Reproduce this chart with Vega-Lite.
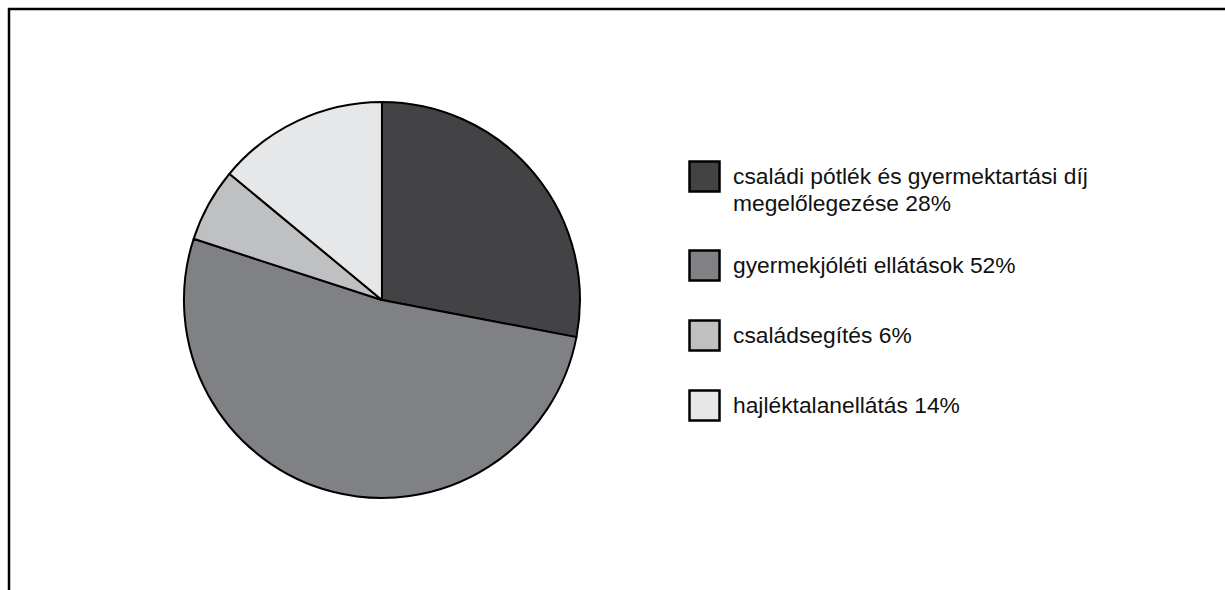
{
  "$schema": "https://vega.github.io/schema/vega-lite/v6.json",
  "autosize": "none",
  "width": 1226,
  "height": 591,
  "padding": {"left": 9, "top": 9, "right": -10, "bottom": -10},
  "background": "white",
  "config": {"view": {"stroke": "black", "strokeWidth": 2.5}},
  "data": {
    "values": [
      {"kategoria": "családi pótlék és gyermektartási díj megelőlegezése 28%", "ertek": 28, "sorrend": 1},
      {"kategoria": "gyermekjóléti ellátások 52%", "ertek": 52, "sorrend": 2},
      {"kategoria": "családsegítés 6%", "ertek": 6, "sorrend": 3},
      {"kategoria": "hajléktalanellátás 14%", "ertek": 14, "sorrend": 4}
    ]
  },
  "mark": {"type": "arc", "outerRadius": 198, "stroke": "black", "strokeWidth": 2, "strokeJoin": "round"},
  "encoding": {
    "theta": {"field": "ertek", "type": "quantitative", "stack": true},
    "order": {"field": "sorrend", "type": "quantitative"},
    "x": {"datum": 0.3042, "type": "quantitative", "scale": {"domain": [0, 1], "nice": false, "zero": false}, "axis": null},
    "y": {"datum": 0.4924, "type": "quantitative", "scale": {"domain": [0, 1], "nice": false, "zero": false, "reverse": true}, "axis": null},
    "color": {
      "field": "kategoria",
      "type": "nominal",
      "scale": {
        "domain": ["családi pótlék és gyermektartási díj megelőlegezése 28%", "gyermekjóléti ellátások 52%", "családsegítés 6%", "hajléktalanellátás 14%"],
        "range": ["#434345", "#808185", "#bfc0c2", "#e6e7e8"]
      },
      "legend": {
        "orient": "none",
        "legendX": 679,
        "legendY": 151,
        "title": null,
        "symbolType": "square",
        "symbolSize": 900,
        "symbolStrokeColor": "black",
        "symbolStrokeWidth": 2.5,
        "symbolOpacity": 1,
        "labelFont": "Liberation Sans",
        "labelFontSize": 22.8,
        "labelColor": "#111111",
        "labelLimit": 0,
        "labelOffset": 12,
        "rowPadding": 29,
        "labelExpr": "datum.label == 'családi pótlék és gyermektartási díj megelőlegezése 28%' ? ['családi pótlék és gyermektartási díj', 'megelőlegezése 28%'] : datum.label",
        "encode": {"labels": {"update": {"lineHeight": {"value": 27}}}}
      }
    }
  }
}
